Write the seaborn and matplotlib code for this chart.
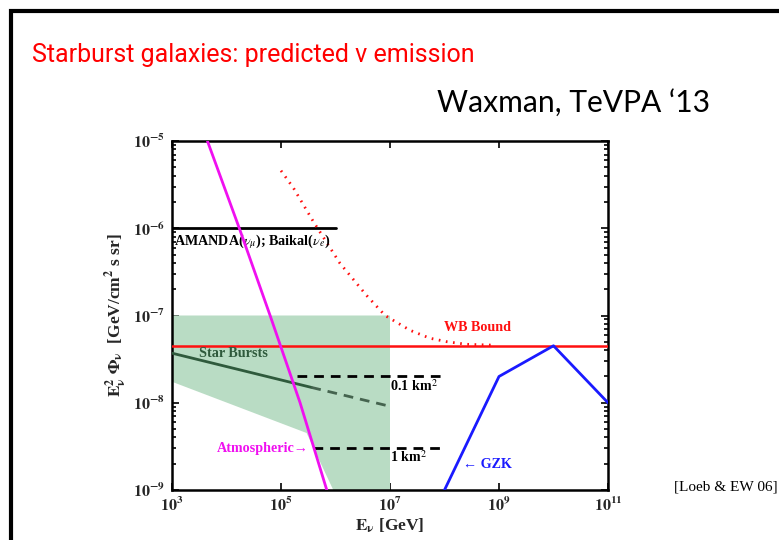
import numpy as np
import matplotlib
matplotlib.use("Agg")
import matplotlib.pyplot as plt
from matplotlib.lines import Line2D
from matplotlib.ticker import FixedLocator, NullLocator, LogLocator, FixedFormatter
import seaborn as sns

# ---- data (energy in GeV, flux E^2 Phi in GeV/cm^2 s sr) ----
amanda_E = [1e3, 1e6]
amanda_flux = [1e-6, 1e-6]

wb_E = [1e3, 1e11]
wb_flux = [4.5e-8, 4.5e-8]

# WB bound including the high-flux extension at lower energies (dotted)
wb_ext_logE = [5.0, 5.23, 5.59, 6.08, 6.57, 6.91, 7.37, 7.73, 8.04, 8.4, 8.9]
wb_ext_logF = [-5.34, -5.54, -5.92, -6.40, -6.77, -7.0, -7.17, -7.26, -7.30, -7.33, -7.34]

atm_logE = [3.65, 4.235, 4.80, 5.35, 5.84]
atm_logF = [-5.0, -6.0, -7.0, -8.0, -9.0]

# starburst prediction: solid up to ~3.6e5 GeV, dashed beyond
sb_solid_E = [1e3, 3.6e5]
sb_solid_flux = [3.7e-8, 1.5e-8]
sb_dash_E = [3.6e5, 1e7]
sb_dash_flux = [1.5e-8, 9.1e-9]

# uncertainty band of starburst emission
band_E = [1e3, 1e7, 1e7, 9.1e5, 2.95e5, 1e3]
band_flux = [1e-7, 1e-7, 1e-9, 1e-9, 4.5e-9, 1.74e-8]

km01_E = [2e5, 1e8]
km01_flux = [2e-8, 2e-8]
km1_E = [3.9e5, 1e8]
km1_flux = [3e-9, 3e-9]

gzk_E = [1e8, 1e9, 1e10, 1e11]
gzk_flux = [1e-9, 2e-8, 4.5e-8, 1e-8]

x_ticks = [1e3, 1e5, 1e7, 1e9, 1e11]
x_ticklabels = [r"$\mathbf{10^{3}}$", r"$\mathbf{10^{5}}$", r"$\mathbf{10^{7}}$",
                r"$\mathbf{10^{9}}$", r"$\mathbf{10^{11}}$"]
y_ticks = [1e-9, 1e-8, 1e-7, 1e-6, 1e-5]
y_ticklabels = [r"$\mathbf{10^{-9}}$", r"$\mathbf{10^{-8}}$", r"$\mathbf{10^{-7}}$",
                r"$\mathbf{10^{-6}}$", r"$\mathbf{10^{-5}}$"]

# ---- style ----
sns.set_style("ticks")
plt.rcParams["font.family"] = ["Liberation Serif", "DejaVu Serif"]
plt.rcParams["mathtext.fontset"] = "stix"

RED = "#ff1010"
MAGENTA = "#f010f0"
BLUE = "#1a1aff"
DKGREEN = "#2f5a3c"
BAND = "#b9dcc4"
SERIF = ["Liberation Serif", "DejaVu Serif"]

fig = plt.figure(figsize=(7.79, 5.40), dpi=100)
fig.patch.set_facecolor("white")

ax = fig.add_axes([172 / 779, 1 - 490 / 540, 436 / 779, 349 / 540])
ax.set_xscale("log")
ax.set_yscale("log")

ax.fill(band_E, band_flux, color=BAND, lw=0, zorder=1)

sns.lineplot(x=amanda_E, y=amanda_flux, ax=ax, color="black", lw=2.0,
             estimator=None, sort=False, zorder=3)
sns.lineplot(x=wb_E, y=wb_flux, ax=ax, color=RED, lw=1.8,
             estimator=None, sort=False, zorder=3)
sns.lineplot(x=10 ** np.array(wb_ext_logE), y=10 ** np.array(wb_ext_logF), ax=ax,
             color=RED, lw=2.0, dashes=(0.6, 2.0), estimator=None, sort=False, zorder=3)
sns.lineplot(x=10 ** np.array(atm_logE), y=10 ** np.array(atm_logF), ax=ax,
             color=MAGENTA, lw=2.0, estimator=None, sort=False, zorder=4)
sns.lineplot(x=sb_solid_E, y=sb_solid_flux, ax=ax, color=DKGREEN, lw=2.0,
             estimator=None, sort=False, zorder=3)
sns.lineplot(x=sb_dash_E, y=sb_dash_flux, ax=ax, color="#45644f", lw=2.0,
             dashes=(3.5, 2.5), estimator=None, sort=False, zorder=3)
sns.lineplot(x=km01_E, y=km01_flux, ax=ax, color="black", lw=2.0,
             dashes=(3.5, 2.5), estimator=None, sort=False, zorder=3)
sns.lineplot(x=km1_E, y=km1_flux, ax=ax, color="black", lw=2.0,
             dashes=(3.5, 2.5), estimator=None, sort=False, zorder=3)
sns.lineplot(x=gzk_E, y=gzk_flux, ax=ax, color=BLUE, lw=2.0,
             estimator=None, sort=False, zorder=3)

ax.set_xlim(1e3, 1e11)
ax.set_ylim(1e-9, 1e-5)

ax.xaxis.set_major_locator(FixedLocator(x_ticks))
ax.xaxis.set_major_formatter(FixedFormatter(x_ticklabels))
ax.xaxis.set_minor_locator(NullLocator())
ax.yaxis.set_major_locator(FixedLocator(y_ticks))
ax.yaxis.set_major_formatter(FixedFormatter(y_ticklabels))
ax.yaxis.set_minor_locator(LogLocator(base=10, subs=np.arange(2, 10)))
ax.tick_params(which="both", direction="in", top=True, right=True,
               color="black", width=1.2)
ax.tick_params(which="major", length=5, labelsize=11.5, pad=5)
ax.tick_params(which="minor", length=3)
for s in ax.spines.values():
    s.set_linewidth(1.8)
    s.set_color("black")

ax.set_xlabel(r"$\mathbf{E_{\nu}}$ [GeV]", fontsize=12.5, fontweight="bold", labelpad=1)
ax.set_ylabel(r"$\mathbf{E_{\nu}^{2}\ \Phi_{\nu}}$  [GeV/cm$^{\mathbf{2}}$ s sr]",
              fontsize=12.5, fontweight="bold", labelpad=3)

kw = dict(fontsize=10.2, fontweight="bold", family=SERIF, va="center")
ax.text(1.1e3, 10 ** -6.15, r"AMANDA($\nu_{\mu}$); Baikal($\nu_{e}$)", color="black", ha="left", **kw)
ax.text(10 ** 4.12, 10 ** -7.44, "Star Bursts", color=DKGREEN, ha="center", **kw)
ax.text(10 ** 8.6, 10 ** -7.14, "WB Bound", color=RED, ha="center", **kw)
ax.text(1.0e7, 10 ** -7.81, r"0.1 km$^{2}$", color="black", ha="left", **kw)
ax.text(1.0e7, 10 ** -8.62, r"1 km$^{2}$", color="black", ha="left", **kw)
ax.text(10 ** 5.5, 10 ** -8.52, "Atmospheric\u2192", color=MAGENTA, ha="right", **kw)
ax.text(10 ** 8.34, 10 ** -8.71, "\u2190 GZK", color=BLUE, ha="left", **kw)

# slide texts
fig.text(32 / 779, 1 - 62 / 540, "Starburst galaxies: predicted \u03bd emission",
         color="#ff0000", fontsize=18,
         family=["Roboto", "DejaVu Sans"], ha="left", va="baseline")
fig.text(437 / 779, 1 - 112 / 540, "Waxman, TeVPA \u201813",
         color="black", fontsize=21.6, family=["Lato", "DejaVu Sans"], ha="left", va="baseline")
fig.text(778 / 779, 1 - 487 / 540, "[Loeb & EW 06]", color="black", fontsize=11,
         family=SERIF, ha="right", va="center")

# slide frame
fig.add_artist(Line2D([11 / 779, 11 / 779, 1.0], [0.0, 1 - 11 / 540, 1 - 11 / 540],
                      transform=fig.transFigure, color="black", lw=3,
                      solid_joinstyle="miter"))

fig.savefig("out.png", dpi=100)
